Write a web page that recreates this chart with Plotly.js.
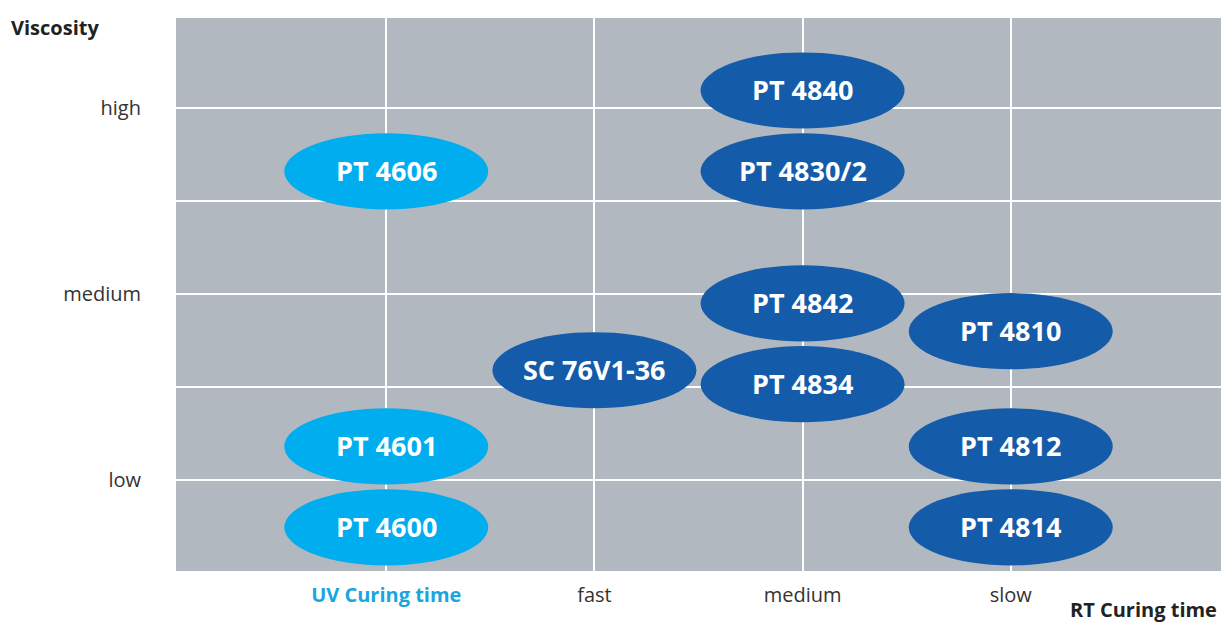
<!DOCTYPE html>
<html>
<head>
<meta charset="utf-8">
<script src="https://cdn.plot.ly/plotly-3.0.1.min.js"></script>
<style>html,body{margin:0;padding:0;background:#fff;}#chart{width:1221px;height:623px;}</style>
</head>
<body>
<div id="chart"></div>
<script>
// Data
const products   = ['PT 4840','PT 4830/2','PT 4606','PT 4842','PT 4834','SC 76V1-36','PT 4810','PT 4601','PT 4812','PT 4600','PT 4814'];
const curingPos  = [3, 3, 1, 3, 3, 2, 4, 1, 4, 1, 4];          // 1=UV, 2=fast, 3=medium, 4=slow
const viscosity  = [5.19, 4.32, 4.32, 2.90, 2.03, 2.18, 2.60, 1.36, 1.36, 0.49, 0.49];
const productType= ['RT','RT','UV','RT','RT','RT','RT','UV','RT','UV','RT'];
const xTickVals  = [1, 2, 3, 4];
const xTickText  = ['<b style="color:#1aa5df">UV Curing time</b>', 'fast', 'medium', 'slow'];
const yTickVals  = [1, 2, 3, 4, 5];
const yTickText  = ['low', '', 'medium', '', 'high'];

const colors = {UV: '#00aeef', RT: '#145caa'};
const halfW = 0.49, halfH = 0.41;
const FONT = 'Open Sans, Noto Sans, sans-serif';

const shapes = products.map((p, i) => ({
  type: 'circle', xref: 'x', yref: 'y',
  x0: curingPos[i] - halfW, x1: curingPos[i] + halfW,
  y0: viscosity[i] - halfH, y1: viscosity[i] + halfH,
  fillcolor: colors[productType[i]], line: {width: 0}, layer: 'above'
}));

const annotations = products.map((p, i) => ({
  x: curingPos[i], y: viscosity[i], xref: 'x', yref: 'y',
  text: '<b>' + p + '</b>', showarrow: false,
  font: {family: FONT, size: 27, color: '#ffffff'}, yshift: 1
}));
annotations.push({
  xref: 'paper', yref: 'paper', x: -167/1045, y: 1 - 9/553, xanchor: 'left', yanchor: 'middle',
  text: '<b>Viscosity</b>', showarrow: false, font: {family: FONT, size: 20, color: '#222'}
});
annotations.push({
  xref: 'paper', yref: 'paper', x: 1 - 2/1045, y: -38/553, xanchor: 'right', yanchor: 'middle',
  text: '<b>RT Curing time</b>', showarrow: false, font: {family: FONT, size: 20, color: '#222'}
});

const trace = {x: curingPos, y: viscosity, mode: 'markers', marker: {opacity: 0}, hoverinfo: 'skip', showlegend: false};

const layout = {
  width: 1221, height: 623,
  margin: {l: 176, r: 0, t: 18, b: 52},
  paper_bgcolor: '#ffffff', plot_bgcolor: '#b1b8bf',
  showlegend: false,
  font: {family: FONT, size: 20, color: '#333'},
  xaxis: {range: [-0.01, 5.01], tickvals: xTickVals, ticktext: xTickText, showgrid: true, gridcolor: '#ffffff', gridwidth: 2,
          zeroline: false, showline: false, ticks: '', ticklabelstandoff: 10, fixedrange: true,
          tickfont: {family: FONT, size: 20, color: '#333'}},
  yaxis: {range: [0.02, 5.97], tickvals: yTickVals, ticktext: yTickText, showgrid: true, gridcolor: '#ffffff', gridwidth: 2,
          zeroline: false, showline: false, ticks: '', ticklabelstandoff: 34, fixedrange: true,
          tickfont: {family: FONT, size: 20, color: '#333'}},
  shapes: shapes,
  annotations: annotations
};

Plotly.newPlot('chart', [trace], layout, {displayModeBar: false, staticPlot: true});
</script>
</body>
</html>
